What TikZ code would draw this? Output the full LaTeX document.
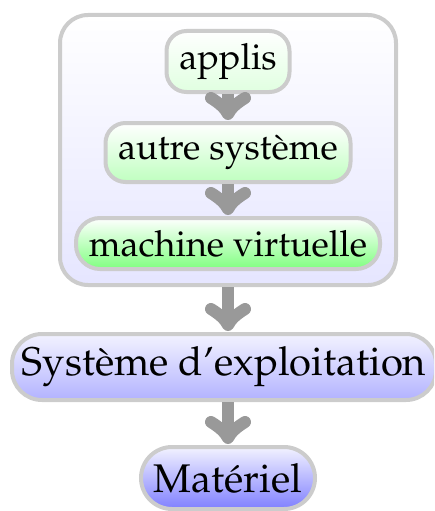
\documentclass[tikz,border=0pt]{standalone}
\usepackage[T1]{fontenc}
\usepackage{mathpazo}
\usetikzlibrary{calc}
\newcommand\layerarrow[2]{%
  \coordinate (tipref) at (#1 |- #2.north);
  \draw[shaftline] (#1) -- ($(tipref)+(0,-8)$);
  \draw[headline] ($(tipref)+(-17,-23)$) .. controls ($(tipref)+(-9,-18)$) and ($(tipref)+(-3,-13)$) .. ($(tipref)+(0,-7)$)
     .. controls ($(tipref)+(3,-13)$) and ($(tipref)+(9,-18)$) .. ($(tipref)+(17,-23)$);}
\begin{document}
\begin{tikzpicture}[x=1pt,y=-1pt,
  box/.style={draw=black!20, line width=4pt, rounded corners=#1, inner sep=0pt, align=center, text=black},
  inner/.style={box=20pt, font=\fontsize{36}{40}\selectfont},
  outerf/.style={box=30pt, font=\fontsize{40}{44}\selectfont},
  shaftline/.style={draw=gray!80, line width=12pt},
  headline/.style={draw=gray!80, line width=12pt, line cap=round, line join=round}
]
\clip (0,0) rectangle (434,511);
\node[box=28pt, minimum width=336pt, minimum height=270pt, top color=white, bottom color=blue!10] (vm) at (228,150) {};
\node[inner, minimum width=123pt, minimum height=61pt, top color=white, bottom color=green!12] (applis) at (228,61.5) {applis};
\node[inner, minimum width=245pt, minimum height=59pt, top color=white, bottom color=green!25] (autre) at (228,152.5) {autre syst\`eme};
\node[inner, box=24pt, minimum width=304pt, minimum height=51pt, top color=white, bottom color=green!50] (machine) at (228,243.5) {machine virtuelle};
\node[outerf, minimum width=424pt, minimum height=66pt, top color=blue!5, bottom color=blue!30] (os) at (224,367) {Syst\`eme d'exploitation};
\node[outerf, box=31pt, minimum width=174pt, minimum height=62pt, top color=blue!5, bottom color=blue!50] (hw) at (228,478) {Mat\'eriel};
\coordinate (osbot) at (os.south -| hw.north);
\layerarrow{applis.south}{autre}
\layerarrow{autre.south}{machine}
\layerarrow{vm.south}{os}
\layerarrow{osbot}{hw}
\end{tikzpicture}
\end{document}
